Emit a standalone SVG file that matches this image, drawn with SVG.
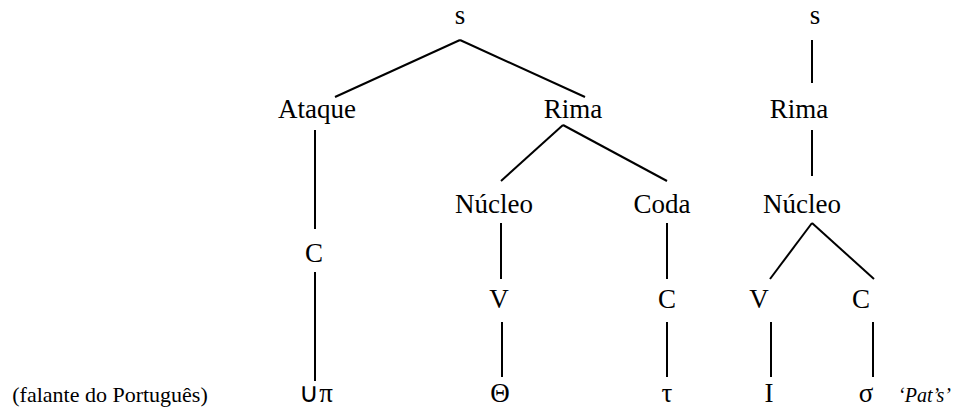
<svg xmlns="http://www.w3.org/2000/svg" width="959" height="417" viewBox="0 0 959 417">
<style>
text{font-family:"Liberation Serif","Times New Roman",serif;font-size:27px;fill:#000;text-anchor:middle}
.sm{font-size:22px}
.it{font-size:20px;font-style:italic;text-anchor:start}
line{stroke:#000;stroke-width:2}
</style>
<rect width="959" height="417" fill="#fff"/>
<g id="connectors">
<line x1="460" y1="40" x2="335" y2="97"/>
<line x1="460" y1="40" x2="585" y2="97"/>
<line x1="315" y1="130" x2="315" y2="229"/>
<line x1="315" y1="272" x2="315" y2="381"/>
<line x1="563" y1="125" x2="501" y2="181"/>
<line x1="563" y1="125" x2="667" y2="181"/>
<line x1="501" y1="223" x2="501" y2="279"/>
<line x1="667" y1="223" x2="667" y2="279"/>
<line x1="502" y1="322" x2="502" y2="377"/>
<line x1="667" y1="322" x2="667" y2="377"/>
<line x1="812" y1="40" x2="812" y2="83"/>
<line x1="812" y1="130" x2="812" y2="176"/>
<line x1="812" y1="223" x2="770" y2="279"/>
<line x1="812" y1="223" x2="874" y2="279"/>
<line x1="771" y1="322" x2="771" y2="377"/>
<line x1="873" y1="322" x2="873" y2="377"/>
</g>
<g id="s1"><text x="460" y="24">s</text></g>
<g id="ataque"><text x="317" y="118">Ataque</text></g>
<g id="rima1"><text x="573" y="118">Rima</text></g>
<g id="c1"><text x="314" y="262">C</text></g>
<g id="nucleo1"><text x="494" y="213">Núcleo</text></g>
<g id="coda"><text x="662" y="213">Coda</text></g>
<g id="v1"><text x="499" y="308">V</text></g>
<g id="c2"><text x="667" y="308">C</text></g>
<g id="s2"><text x="815" y="24">s</text></g>
<g id="rima2"><text x="799" y="118">Rima</text></g>
<g id="nucleo2"><text x="802" y="213">Núcleo</text></g>
<g id="v2"><text x="759" y="308">V</text></g>
<g id="c3"><text x="861" y="308">C</text></g>
<g id="label"><text class="sm" x="110" y="402">(falante do Português)</text></g>
<g id="seg1"><text x="316" y="402">∪π</text></g>
<g id="seg2"><text x="500" y="402">Θ</text></g>
<g id="seg3"><text x="667" y="402">τ</text></g>
<g id="seg4"><text x="769" y="402">I</text></g>
<g id="seg5"><text x="866" y="402">σ</text></g>
<g id="gloss"><text class="it" x="898" y="402">‘Pat’s’</text></g>
</svg>
